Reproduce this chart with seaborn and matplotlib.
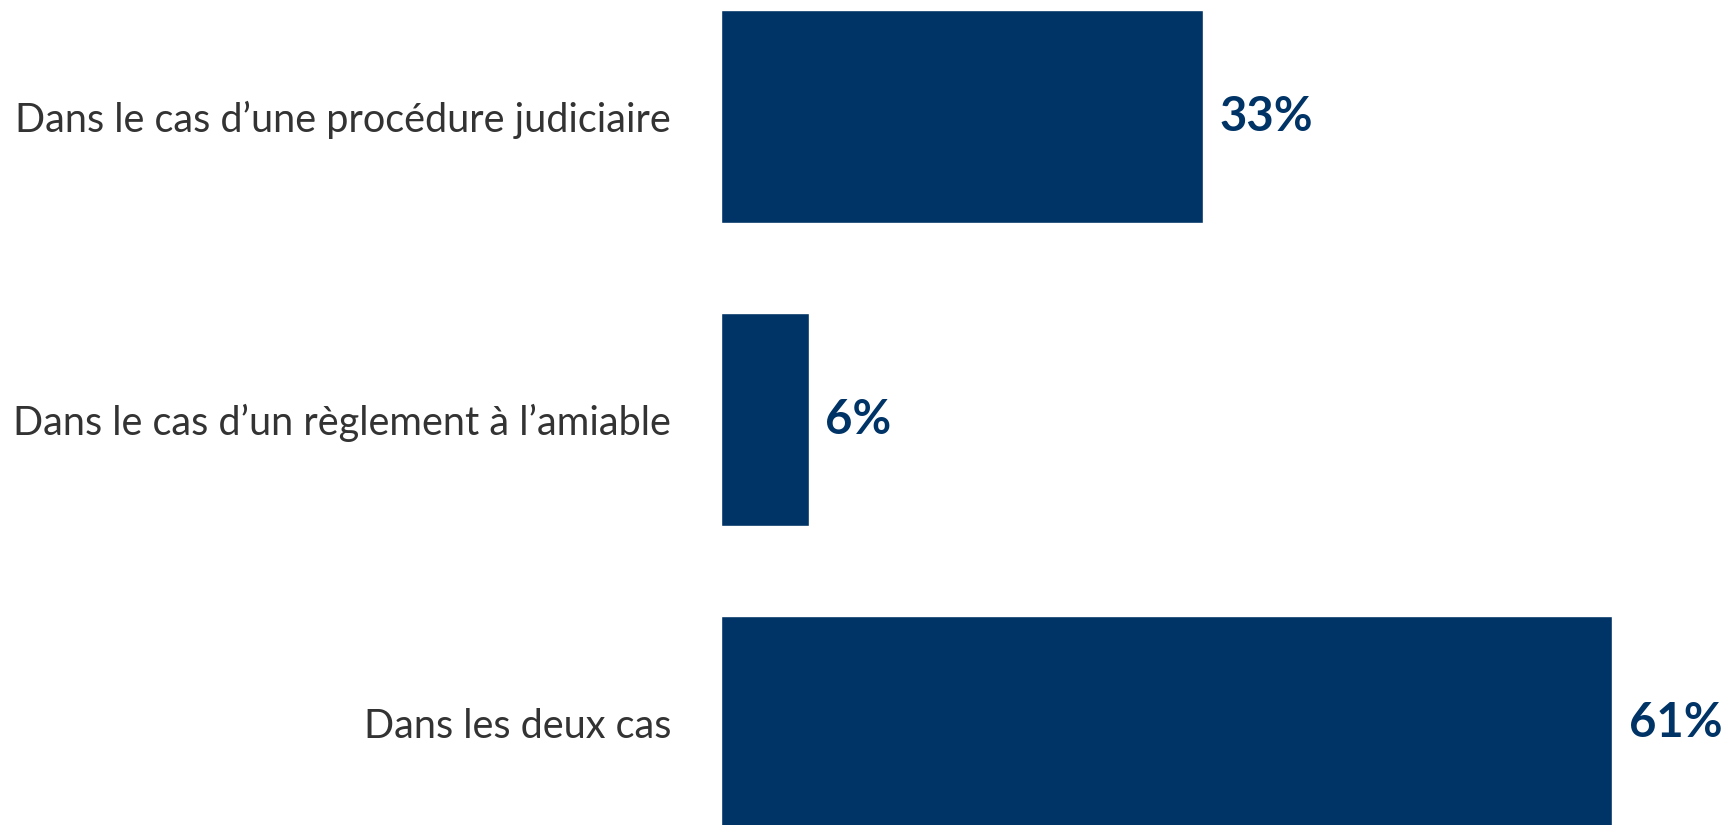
import matplotlib
matplotlib.use("Agg")
import matplotlib.pyplot as plt
import seaborn as sns
import pandas as pd

categories = ["Dans le cas d\u2019une procédure judiciaire",
              "Dans le cas d\u2019un règlement à l\u2019amiable",
              "Dans les deux cas"]
values = [33, 6, 61]

df = pd.DataFrame({"cat": categories, "val": values})

sns.set_style("white")
plt.rcParams['font.family'] = ['Lato', 'DejaVu Sans']

fig = plt.figure(figsize=(17.26, 8.25), dpi=100)
ax = fig.add_axes([0.4177, 0, 0.5924, 1])

sns.barplot(data=df, y="cat", x="val", orient="h", color="#003366",
            width=0.703, saturation=1, ax=ax)

ax.set_xlim(0, 70)
ax.set_ylim(2.338, -0.3845)
ax.set_xlabel("")
ax.set_ylabel("")
ax.set_xticks([])
sns.despine(ax=ax, left=True, bottom=True)
ax.tick_params(axis="y", length=0, pad=36, labelsize=28.5, labelcolor="#333333")

# value labels to the right of each bar
for i, v in enumerate(values):
    ax.annotate(f"{v}%", xy=(v, i), xytext=(12, 0), textcoords="offset points",
                va="center", ha="left", fontsize=34, fontweight="bold",
                color="#003366")

fig.savefig("out.png", dpi=100)
